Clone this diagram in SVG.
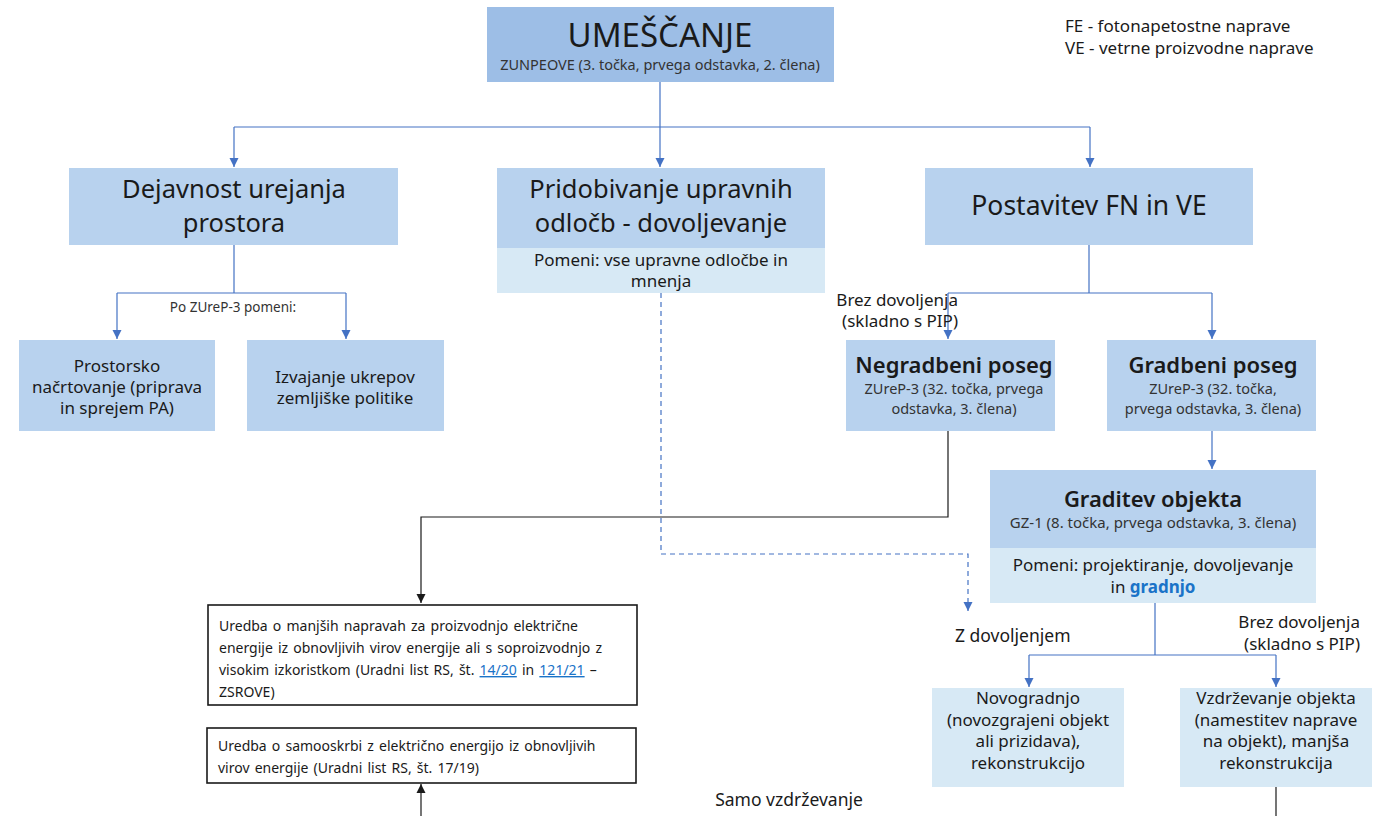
<svg xmlns="http://www.w3.org/2000/svg" width="1384" height="816" viewBox="0 0 1384 816">
<defs>
<style>
text{font-family:"Noto Sans","Open Sans",sans-serif;fill:#1a1a1a}
.c{text-anchor:middle}
.r{text-anchor:end}
.dark{fill:#9dbee6}
.mid{fill:#b8d2ee}
.light{fill:#d7e9f5}
.ln{fill:none;stroke:#4472c4;stroke-width:1.2}
.dash{fill:none;stroke:#4472c4;stroke-width:1.2;stroke-dasharray:5 4}
.blk{fill:none;stroke:#1a1a1a;stroke-width:1.2}
.box{fill:#fff;stroke:#1a1a1a;stroke-width:1.6}
.t26{font-size:25.5px}
.t16{font-size:17px}
.t14{font-size:14.5px;fill:#333}
.t13{font-size:14px;word-spacing:1.5px}
.h22{font-size:22px;font-weight:600}
.lnk{fill:#1a73c8;text-decoration:underline}
</style>
<marker id="ab" markerWidth="10" markerHeight="10" refX="9" refY="5" orient="auto" markerUnits="userSpaceOnUse"><path d="M0,0.5 L9,5 L0,9.5 Z" fill="#4472c4"/></marker>
<marker id="ak" markerWidth="10" markerHeight="10" refX="9" refY="5" orient="auto" markerUnits="userSpaceOnUse"><path d="M0,0.5 L9,5 L0,9.5 Z" fill="#1a1a1a"/></marker>
</defs>
<rect width="1384" height="816" fill="#fff"/>

<g id="connectors">
<path class="ln" d="M660,82 V127"/>
<path class="ln" d="M234,127 H1090"/>
<path class="ln" d="M234,127 V167" marker-end="url(#ab)"/>
<path class="ln" d="M660,127 V167" marker-end="url(#ab)"/>
<path class="ln" d="M1090,127 V167" marker-end="url(#ab)"/>
<path class="ln" d="M234,245 V293 M117,293 H346"/>
<path class="ln" d="M117,293 V339" marker-end="url(#ab)"/>
<path class="ln" d="M346,293 V339" marker-end="url(#ab)"/>
<path class="ln" d="M1089,245 V293 M948,293 H1212"/>
<path class="ln" d="M948,293 V339" marker-end="url(#ab)"/>
<path class="ln" d="M1212,293 V339" marker-end="url(#ab)"/>
<path class="ln" d="M1212,431 V469" marker-end="url(#ab)"/>
<path class="ln" d="M1155,603 V655 M1029,655 H1276"/>
<path class="ln" d="M1029,655 V687" marker-end="url(#ab)"/>
<path class="ln" d="M1276,655 V687" marker-end="url(#ab)"/>
<path class="dash" d="M661,293 V554 H968 V611" marker-end="url(#ab)"/>
<path class="blk" d="M948,431 V517 H421 V603" marker-end="url(#ak)"/>
<path class="blk" d="M421,816 V784" marker-end="url(#ak)"/>
<path class="blk" d="M1276,787 V816"/>
</g>

<g id="legend">
<text x="1065" y="32" style="font-size:17px">FE - fotonapetostne naprave</text>
<text x="1065" y="54" style="font-size:17px">VE - vetrne proizvodne naprave</text>
</g>

<g id="umescanje">
<rect class="dark" x="487" y="7" width="347" height="75"/>
<text class="c" x="660" y="47" style="font-size:33px">UMEŠČANJE</text>
<text class="c" x="660" y="70" style="font-size:14.5px;fill:#333">ZUNPEOVE (3. točka, prvega odstavka, 2. člena)</text>
</g>

<g id="dejavnost">
<rect class="mid" x="69" y="168" width="329" height="77"/>
<text class="c t26" x="234" y="198">Dejavnost urejanja</text>
<text class="c t26" x="234" y="232">prostora</text>
</g>

<g id="pridobivanje">
<rect class="mid" x="497" y="168" width="328" height="80"/>
<rect class="light" x="497" y="248" width="328" height="45"/>
<text class="c t26" x="661" y="198">Pridobivanje upravnih</text>
<text class="c t26" x="661" y="232">odločb - dovoljevanje</text>
<text class="c t16" x="661" y="266">Pomeni: vse upravne odločbe in</text>
<text class="c t16" x="661" y="287">mnenja</text>
</g>

<g id="postavitev">
<rect class="mid" x="925" y="168" width="328" height="77"/>
<text class="c" x="1089" y="215" style="font-size:26.5px">Postavitev FN in VE</text>
</g>

<g id="label-po">
<text class="c" x="233" y="312" style="font-size:13.5px;fill:#333">Po ZUreP-3 pomeni:</text>
</g>

<g id="prostorsko">
<rect class="mid" x="19" y="340" width="196" height="91"/>
<text class="c t16" x="117" y="372">Prostorsko</text>
<text class="c t16" x="117" y="393">načrtovanje (priprava</text>
<text class="c t16" x="117" y="414">in sprejem PA)</text>
</g>

<g id="izvajanje">
<rect class="mid" x="247" y="340" width="197" height="91"/>
<text class="c t16" x="345" y="383">Izvajanje ukrepov</text>
<text class="c t16" x="345" y="404">zemljiške politike</text>
</g>

<g id="label-brez1">
<text class="r t16" x="958" y="306">Brez dovoljenja</text>
<text class="r t16" x="958" y="327">(skladno s PIP)</text>
</g>

<g id="negradbeni">
<rect class="mid" x="846" y="340" width="209" height="91"/>
<text class="c h22" x="954" y="373">Negradbeni poseg</text>
<text class="c t14" x="954" y="394">ZUreP-3 (32. točka, prvega</text>
<text class="c t14" x="954" y="414">odstavka, 3. člena)</text>
</g>

<g id="gradbeni">
<rect class="mid" x="1107" y="340" width="209" height="91"/>
<text class="c h22" x="1213" y="373">Gradbeni poseg</text>
<text class="c t14" x="1213" y="394">ZUreP-3 (32. točka,</text>
<text class="c t14" x="1213" y="414">prvega odstavka, 3. člena)</text>
</g>

<g id="graditev">
<rect class="mid" x="990" y="470" width="326" height="78"/>
<rect class="light" x="990" y="548" width="326" height="55"/>
<text class="c h22" x="1153" y="507">Graditev objekta</text>
<text class="c" x="1153" y="528" style="font-size:15px;fill:#333">GZ-1 (8. točka, prvega odstavka, 3. člena)</text>
<text class="c t16" x="1153" y="571">Pomeni: projektiranje, dovoljevanje</text>
<text class="c t16" x="1153" y="593">in <tspan style="fill:#1a73c8;font-weight:bold">gradnjo</tspan></text>
</g>

<g id="label-z">
<text x="955" y="642" style="font-size:17.5px">Z dovoljenjem</text>
</g>

<g id="label-brez2">
<text class="r t16" x="1360" y="628">Brez dovoljenja</text>
<text class="r t16" x="1360" y="650">(skladno s PIP)</text>
</g>

<g id="novogradnjo">
<rect class="light" x="932" y="688" width="192" height="99"/>
<text class="c t16" x="1028" y="704">Novogradnjo</text>
<text class="c t16" x="1028" y="726">(novozgrajeni objekt</text>
<text class="c t16" x="1028" y="747">ali prizidava),</text>
<text class="c t16" x="1028" y="769">rekonstrukcijo</text>
</g>

<g id="vzdrzevanje">
<rect class="light" x="1180" y="688" width="192" height="99"/>
<text class="c t16" x="1276" y="704">Vzdrževanje objekta</text>
<text class="c t16" x="1276" y="726">(namestitev naprave</text>
<text class="c t16" x="1276" y="747">na objekt), manjša</text>
<text class="c t16" x="1276" y="769">rekonstrukcija</text>
</g>

<g id="uredba1">
<rect class="box" x="208" y="605" width="429" height="100"/>
<text class="t13" x="219" y="631">Uredba o manjših napravah za proizvodnjo električne</text>
<text class="t13" x="219" y="653">energije iz obnovljivih virov energije ali s soproizvodnjo z</text>
<text class="t13" x="219" y="675">visokim izkoristkom (Uradni list RS, št. <tspan class="lnk">14/20</tspan> in <tspan class="lnk">121/21</tspan> –</text>
<text class="t13" x="219" y="697">ZSROVE)</text>
</g>

<g id="uredba2">
<rect class="box" x="207" y="728" width="429" height="55"/>
<text class="t13" x="218" y="751">Uredba o samooskrbi z električno energijo iz obnovljivih</text>
<text class="t13" x="218" y="773">virov energije (Uradni list RS, št. 17/19)</text>
</g>

<g id="label-samo">
<text class="c" x="789" y="806" style="font-size:17.5px">Samo vzdrževanje</text>
</g>
</svg>
